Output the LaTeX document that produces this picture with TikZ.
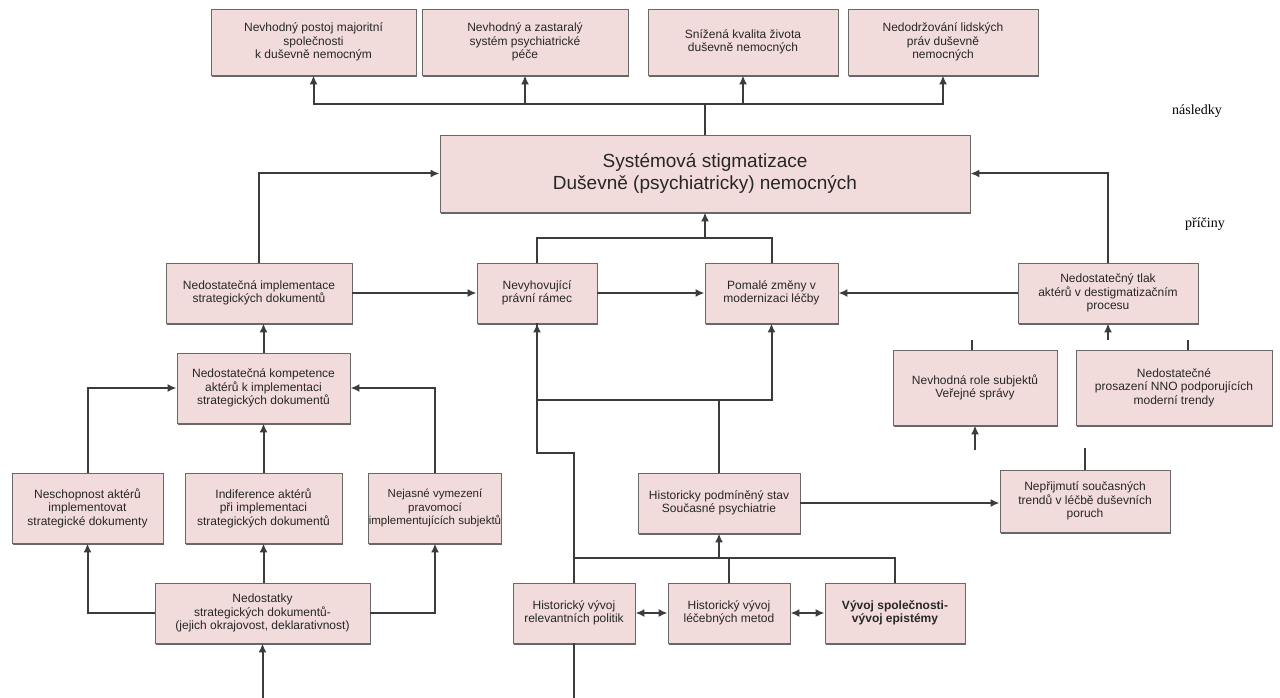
\documentclass[tikz,border=0pt]{standalone}
\usepackage{fontspec}
\setmainfont{Liberation Sans}
\newfontfamily\labelfont{Liberation Serif}
\usetikzlibrary{arrows.meta,shadows}
\definecolor{boxpink}{RGB}{242,220,219}
\definecolor{boxedge}{RGB}{105,105,105}
\definecolor{linegray}{RGB}{60,60,60}
\tikzset{
  box/.style={draw=boxedge, line width=0.9pt, fill=boxpink, align=center, inner sep=2pt,
    font=\fontsize{12}{13.5}\selectfont, text=black!85,
    drop shadow={shadow xshift=0.5pt, shadow yshift=-2pt, fill=black!60, opacity=1}},
  sz/.style 2 args={minimum width=#1pt, minimum height=#2pt},
  link/.style={draw=linegray, line width=2pt},
  arr/.style={link, -{Latex[length=9pt,width=8pt]}},
  darr/.style={link, {Latex[length=9pt,width=8pt]}-{Latex[length=9pt,width=8pt]}},
  side/.style={font=\labelfont\fontsize{14}{16}\selectfont},
}
\begin{document}
\begin{tikzpicture}[x=1pt, y=-1pt]
    \useasboundingbox (0,0) rectangle (1280,698);

    % Consequences
    \node[box, sz={205}{66}] (top1) at (313.5,42) {Nevhodný postoj majoritní\\společnosti\\k duševně nemocným};
    \node[box, sz={206}{66}] (top2) at (525,42) {Nevhodný a zastaralý\\systém psychiatrické\\péče};
    \node[box, sz={190}{66}] (top3) at (743,42) {Snížená kvalita života\\duševně nemocných};
    \node[box, sz={190}{66}] (top4) at (943,42) {Nedodržování lidských\\práv duševně\\nemocných};

    % Central problem
    \node[box, sz={530}{77}, font=\fontsize{19}{22}\selectfont] (main) at (705,173.5)
        {Systémová stigmatizace\\Duševně (psychiatricky) nemocných};

    \node[side] (nasl) at (1197,111) {následky};
    \node[side] (pric) at (1205,224) {příčiny};

    % Causes, first level
    \node[box, sz={186}{60}] (impl) at (259,293) {Nedostatečná implementace\\strategických dokumentů};
    \node[box, sz={120}{60}] (pravni) at (537,293) {Nevyhovující\\právní rámec};
    \node[box, sz={133}{60}] (pomale) at (771.5,293) {Pomalé změny v\\modernizaci léčby};
    \node[box, sz={180}{60}] (tlak) at (1108,293) {Nedostatečný tlak\\aktérů v destigmatizačním\\procesu};

    % Causes, second level
    \node[box, sz={173}{70}] (komp) at (263.5,388) {Nedostatečná kompetence\\aktérů k implementaci\\strategických dokumentů};
    \node[box, sz={164}{75}] (role) at (975,387.5) {Nevhodná role subjektů\\Veřejné správy};
    \node[box, sz={196}{75}] (nno) at (1174,387.5) {Nedostatečné\\prosazení NNO podporujících\\moderní trendy};

    % Causes, third level
    \node[box, sz={151}{70}] (nesch) at (87.5,508) {Neschopnost aktérů\\implementovat\\strategické dokumenty};
    \node[box, sz={157}{70}] (indif) at (263.5,508) {Indiference aktérů\\při implementaci\\strategických dokumentů};
    \node[box, sz={130}{70}, inner sep=0pt, font=\fontsize{11.5}{13.5}\selectfont] (nejas) at (435,508) {Nejasné vymezení\\pravomocí\\implementujících subjektů};
    \node[box, sz={162}{60}] (hist) at (719,503) {Historicky podmíněný stav\\Současné psychiatrie};
    \node[box, sz={170}{62}] (neprij) at (1085,501) {Nepřijmutí současných\\trendů v léčbě duševních\\poruch};

    % Root causes
    \node[box, sz={215}{60}] (nedost) at (262.5,613) {Nedostatky\\strategických dokumentů-\\(jejich okrajovost, deklarativnost)};
    \node[box, sz={122}{60}] (polit) at (574,613) {Historický vývoj\\relevantních politik};
    \node[box, sz={122}{60}] (metod) at (729,613) {Historický vývoj\\léčebných metod};
    \node[box, sz={140}{60}, font=\bfseries\fontsize{12}{13.5}\selectfont] (spol) at (895,613) {Vývoj společnosti-\\vývoj epistémy};

    % Arrows to consequences
    \coordinate (split) at (705,104);
    \foreach \t in {top1,top2,top3,top4}
        \draw[arr] (main.north) -- (split) -| (\t.south);

    % Arrows to central problem
    \draw[arr] (impl.north) |- (main.west);
    \draw[arr] (tlak.north) |- (main.east);
    \coordinate (mbus) at (705,238);
    \draw[arr] (pravni.north) |- (mbus) -- (main.south);
    \draw[link] (pomale.north) |- (mbus);
    \draw[arr] (impl.east) -- (pravni.west);
    \draw[arr] (pravni.east) -- (pomale.west);
    \draw[arr] (tlak.west) -- (pomale.east);

    % Left branch
    \draw[arr] (komp.north) -- (komp.north |- impl.south);
    \draw[arr] (nesch.north) |- (komp.west);
    \draw[arr] (nejas.north) |- (komp.east);
    \draw[arr] (indif.north) -- (komp.south);
    \draw[arr] (nedost.west) -| (nesch.south);
    \draw[arr] (nedost.east) -| (nejas.south);
    \draw[arr] (indif.south |- nedost.north) -- (indif.south);
    \coordinate (lowin) at (262.5,698);
    \draw[arr] (lowin) -- (nedost.south);

    % Middle branch
    \coordinate (hb) at (719,400);
    \draw[link] (hist.north) -- (hb);
    \draw[arr] (hb) -| (pomale.south);
    \draw[arr] (hb) -| (pravni.south);
    \draw[link] (pravni.south) -- (537,453) -| (polit.north);
    \coordinate (lowout) at (574,698);
    \draw[link] (polit.south) -- (lowout);
    \coordinate (bb) at (719,558);
    \draw[link] (polit.north |- bb) -- (spol.north |- bb) -- (spol.north);
    \draw[link] (metod.north) -- (metod.north |- bb);
    \draw[arr] (bb) -- (hist.south);
    \draw[darr] (polit.east) -- (metod.west);
    \draw[darr] (metod.east) -- (spol.west);
    \draw[arr] (hist.east) -- (hist.east -| neprij.west);

    % Right branch (broken links)
    \draw[arr] (tlak.south |- 0,340) -- (tlak.south);
    \draw[link] ([xshift=-3pt]role.north) -- ++(0,-10);
    \draw[link] ([xshift=14pt]nno.north) -- ++(0,-10);
    \draw[arr] (role.south |- 0,450) -- (role.south);
    \draw[link] (neprij.north) -- ++(0,-22);
\end{tikzpicture}
\end{document}
